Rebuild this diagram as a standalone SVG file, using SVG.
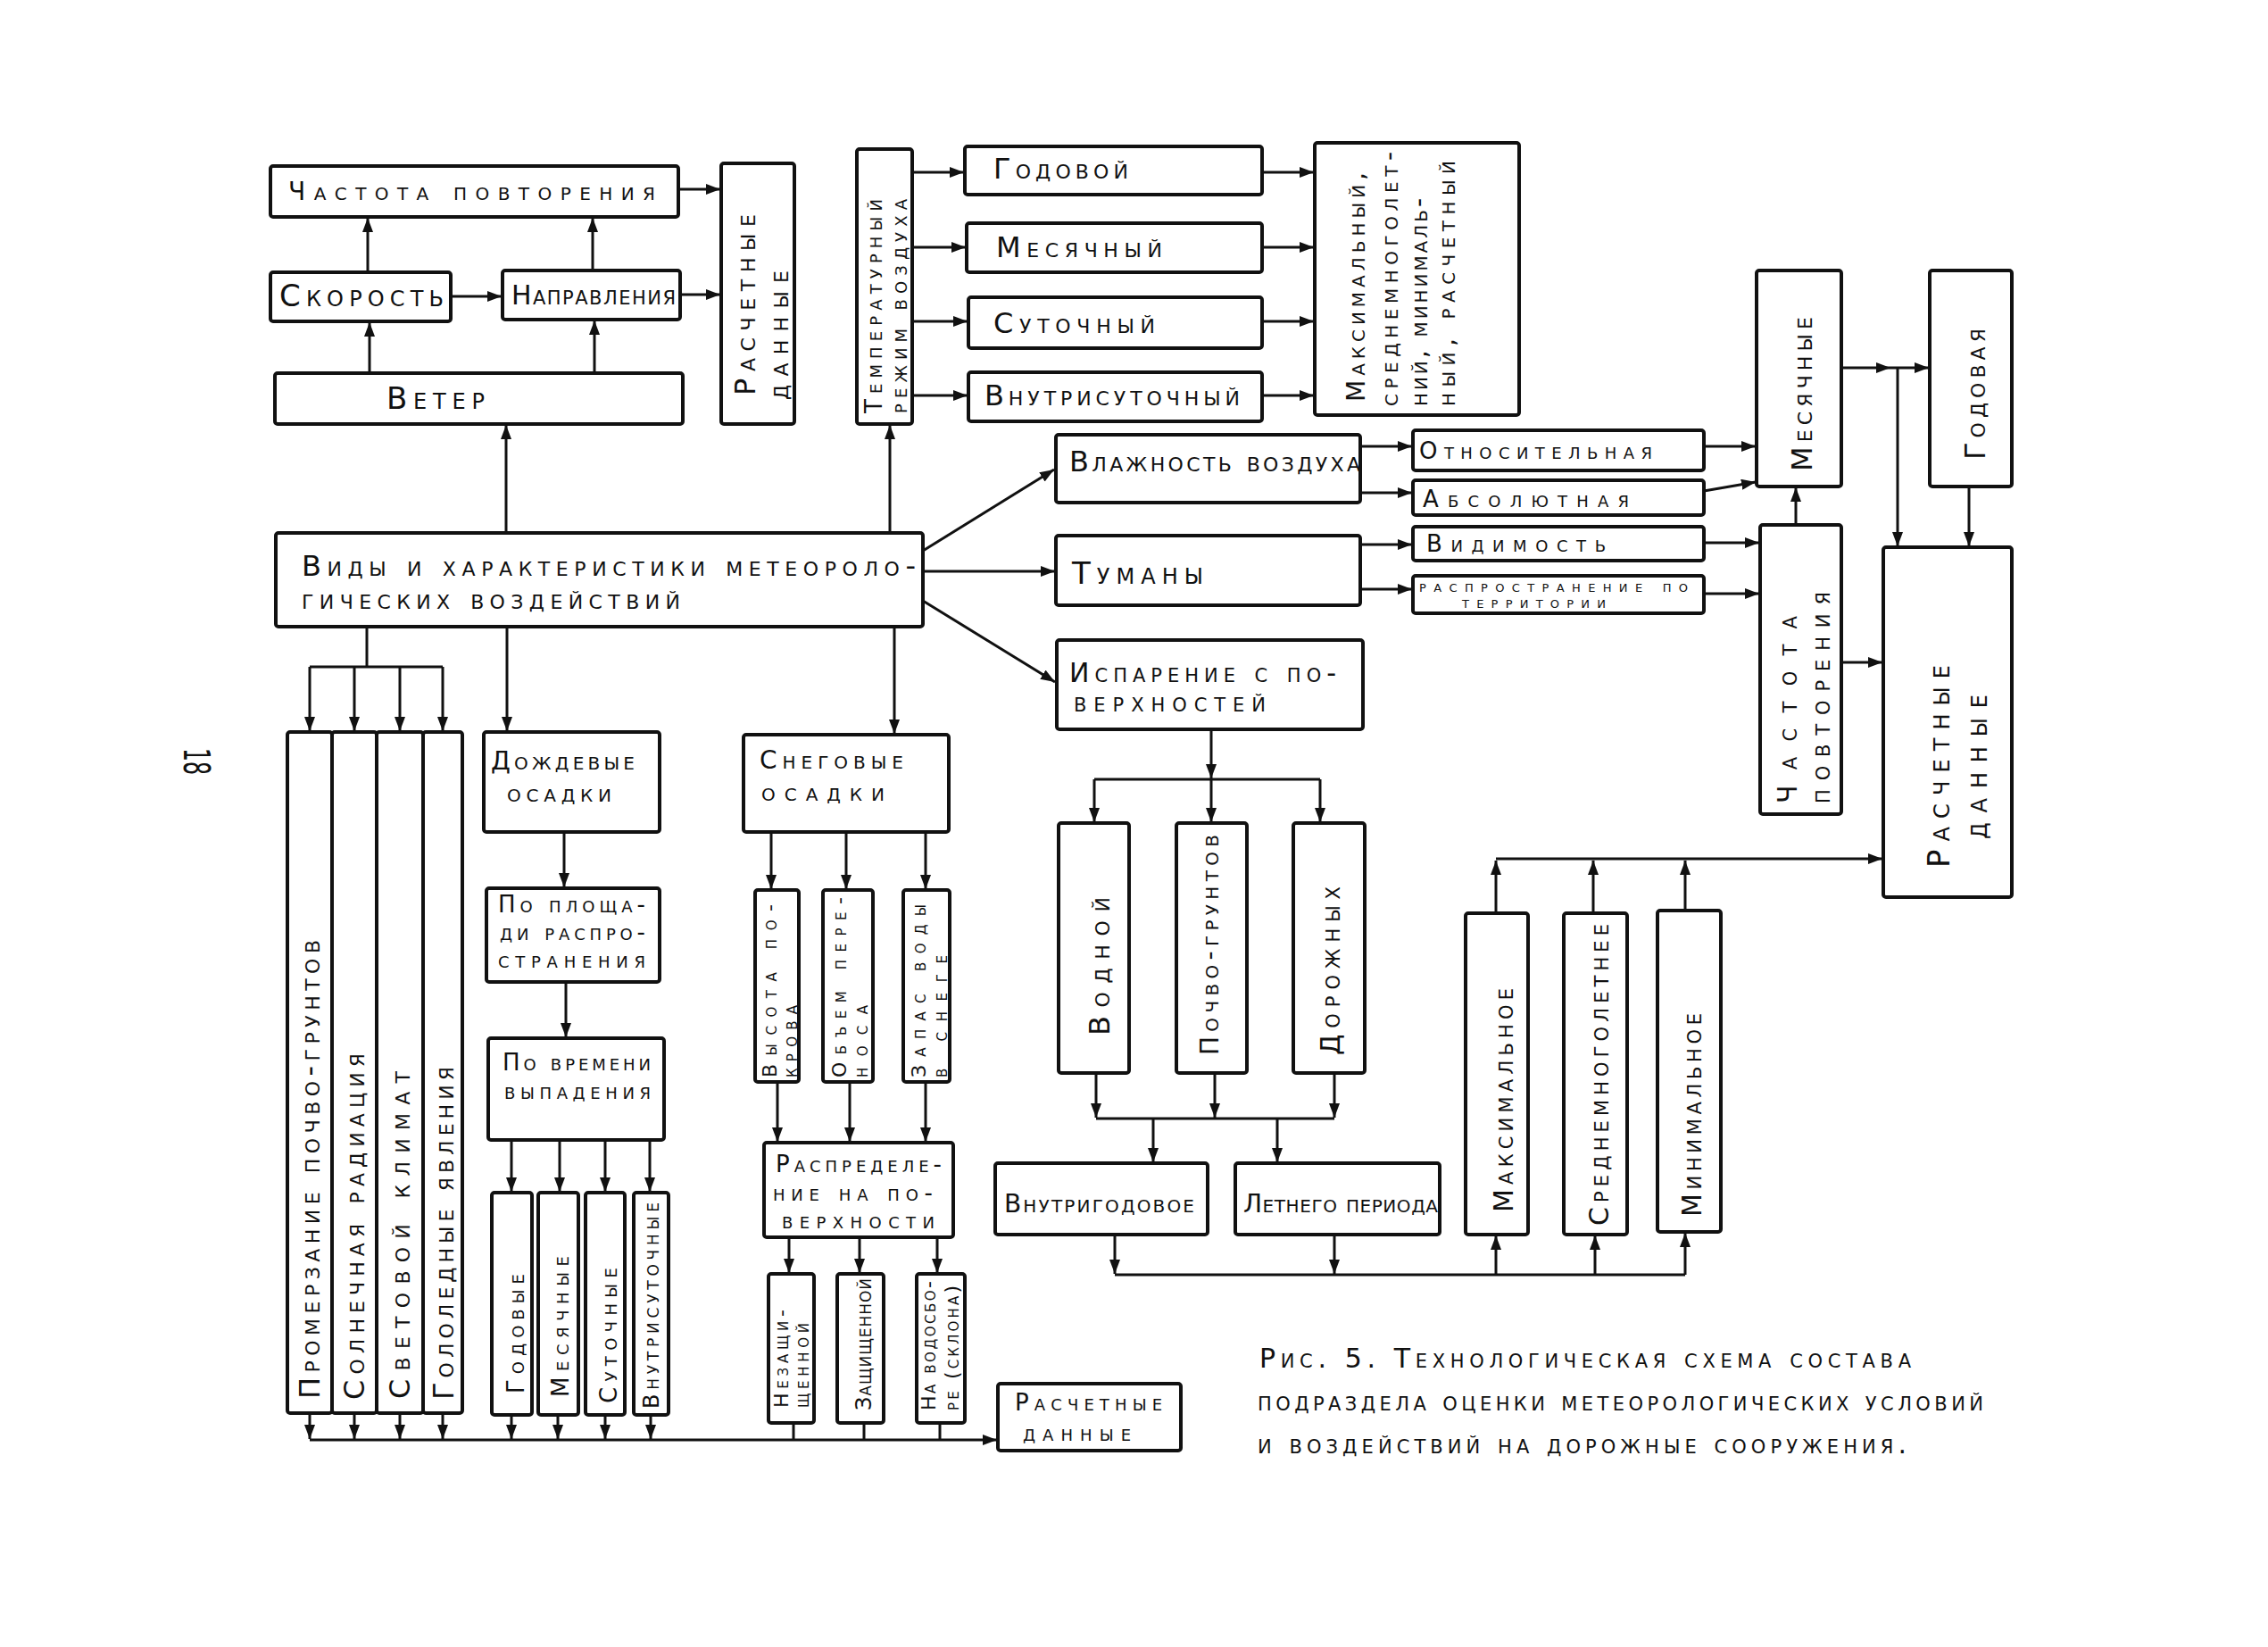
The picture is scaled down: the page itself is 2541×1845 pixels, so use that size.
<svg xmlns="http://www.w3.org/2000/svg" width="2541" height="1845" viewBox="0 0 2541 1845">
<style>
.b{fill:none;stroke:#111;stroke-width:4;stroke-linejoin:round}
.c{stroke:#111;stroke-width:3;fill:none}
.a{marker-end:url(#ah)}
text{font-family:"DejaVu Sans","Liberation Sans",sans-serif;font-variant:small-caps;fill:#111}
.f18{font-size:18px}.f22{font-size:22px}.f24{font-size:24px}.f26{font-size:26px}.f28{font-size:28px}.f30{font-size:30px}.f32{font-size:32px}.f34{font-size:34px}
</style>
<defs>
<marker id="ah" markerUnits="userSpaceOnUse" markerWidth="16" markerHeight="12" refX="16" refY="6" orient="auto">
<path d="M0,0 L16,6 L0,12 z" fill="#111"/>
</marker>
</defs>
<rect x="0" y="0" width="2541" height="1845" fill="#fff"/>

<g id="connectors">
<line class="c a" x1="412" y1="305" x2="412" y2="244"/>
<line class="c a" x1="664" y1="303" x2="664" y2="244"/>
<line class="c a" x1="414" y1="418" x2="414" y2="361"/>
<line class="c a" x1="666" y1="418" x2="666" y2="359"/>
<line class="c a" x1="505" y1="332" x2="562" y2="332"/>
<line class="c a" x1="760" y1="212" x2="807" y2="212"/>
<line class="c a" x1="762" y1="330" x2="807" y2="330"/>
<line class="c a" x1="567" y1="597" x2="567" y2="476"/>
<line class="c a" x1="997" y1="597" x2="997" y2="476"/>
<line class="c a" x1="1022" y1="193" x2="1080" y2="193"/>
<line class="c a" x1="1022" y1="277" x2="1082" y2="277"/>
<line class="c a" x1="1022" y1="360" x2="1084" y2="360"/>
<line class="c a" x1="1022" y1="443" x2="1084" y2="443"/>
<line class="c a" x1="1414" y1="193" x2="1472" y2="193"/>
<line class="c a" x1="1414" y1="277" x2="1472" y2="277"/>
<line class="c a" x1="1414" y1="360" x2="1472" y2="360"/>
<line class="c a" x1="1414" y1="443" x2="1472" y2="443"/>
<line class="c a" x1="1034" y1="617" x2="1181" y2="526"/>
<line class="c a" x1="1034" y1="640" x2="1182" y2="640"/>
<line class="c a" x1="1034" y1="673" x2="1182" y2="764"/>
<line class="c a" x1="1524" y1="500" x2="1582" y2="500"/>
<line class="c a" x1="1524" y1="552" x2="1582" y2="552"/>
<line class="c a" x1="1524" y1="610" x2="1582" y2="610"/>
<line class="c a" x1="1524" y1="660" x2="1582" y2="660"/>
<line class="c a" x1="1909" y1="500" x2="1967" y2="500"/>
<line class="c a" x1="1909" y1="550" x2="1967" y2="540"/>
<line class="c a" x1="1909" y1="608" x2="1971" y2="608"/>
<line class="c a" x1="1909" y1="665" x2="1971" y2="665"/>
<line class="c a" x1="2012" y1="588" x2="2012" y2="546"/>
<line class="c a" x1="2063" y1="412" x2="2118" y2="412"/>
<line class="c a" x1="2118" y1="412" x2="2161" y2="412"/>
<line class="c a" x1="2126" y1="412" x2="2126" y2="612"/>
<line class="c a" x1="2206" y1="545" x2="2206" y2="612"/>
<line class="c a" x1="2063" y1="742" x2="2109" y2="742"/>
<line class="c a" x1="1357" y1="817" x2="1357" y2="872"/>
<line class="c" x1="1226" y1="873" x2="1479" y2="873"/>
<line class="c a" x1="1226" y1="873" x2="1226" y2="921"/>
<line class="c a" x1="1357" y1="873" x2="1357" y2="921"/>
<line class="c a" x1="1479" y1="873" x2="1479" y2="921"/>
<line class="c a" x1="1228" y1="1202" x2="1228" y2="1252"/>
<line class="c a" x1="1361" y1="1202" x2="1361" y2="1252"/>
<line class="c a" x1="1495" y1="1202" x2="1495" y2="1252"/>
<line class="c" x1="1228" y1="1253" x2="1495" y2="1253"/>
<line class="c a" x1="1292" y1="1253" x2="1292" y2="1302"/>
<line class="c a" x1="1431" y1="1253" x2="1431" y2="1302"/>
<line class="c a" x1="1249" y1="1383" x2="1249" y2="1427"/>
<line class="c a" x1="1495" y1="1383" x2="1495" y2="1427"/>
<line class="c" x1="1249" y1="1428" x2="1888" y2="1428"/>
<line class="c a" x1="1676" y1="1428" x2="1676" y2="1384"/>
<line class="c a" x1="1787" y1="1428" x2="1787" y2="1384"/>
<line class="c a" x1="1888" y1="1428" x2="1888" y2="1381"/>
<line class="c a" x1="1676" y1="1023" x2="1676" y2="964"/>
<line class="c a" x1="1785" y1="1023" x2="1785" y2="964"/>
<line class="c a" x1="1888" y1="1020" x2="1888" y2="964"/>
<line class="c a" x1="1676" y1="962" x2="2109" y2="962"/>
<line class="c" x1="411" y1="702" x2="411" y2="747"/>
<line class="c" x1="347" y1="747" x2="496" y2="747"/>
<line class="c a" x1="347" y1="747" x2="347" y2="819"/>
<line class="c a" x1="397" y1="747" x2="397" y2="819"/>
<line class="c a" x1="448" y1="747" x2="448" y2="819"/>
<line class="c a" x1="496" y1="747" x2="496" y2="819"/>
<line class="c a" x1="568" y1="702" x2="568" y2="819"/>
<line class="c a" x1="1002" y1="702" x2="1002" y2="822"/>
<line class="c a" x1="632" y1="932" x2="632" y2="994"/>
<line class="c a" x1="634" y1="1100" x2="634" y2="1162"/>
<line class="c a" x1="573" y1="1277" x2="573" y2="1335"/>
<line class="c a" x1="627" y1="1277" x2="627" y2="1335"/>
<line class="c a" x1="678" y1="1277" x2="678" y2="1335"/>
<line class="c a" x1="728" y1="1277" x2="728" y2="1335"/>
<line class="c a" x1="573" y1="1585" x2="573" y2="1612"/>
<line class="c a" x1="625" y1="1585" x2="625" y2="1612"/>
<line class="c a" x1="678" y1="1585" x2="678" y2="1612"/>
<line class="c a" x1="729" y1="1585" x2="729" y2="1612"/>
<line class="c a" x1="347" y1="1583" x2="347" y2="1612"/>
<line class="c a" x1="397" y1="1583" x2="397" y2="1612"/>
<line class="c a" x1="448" y1="1583" x2="448" y2="1612"/>
<line class="c a" x1="496" y1="1583" x2="496" y2="1612"/>
<line class="c a" x1="864" y1="932" x2="864" y2="996"/>
<line class="c a" x1="948" y1="932" x2="948" y2="996"/>
<line class="c a" x1="1037" y1="932" x2="1037" y2="996"/>
<line class="c a" x1="871" y1="1212" x2="871" y2="1279"/>
<line class="c a" x1="952" y1="1212" x2="952" y2="1279"/>
<line class="c a" x1="1037" y1="1212" x2="1037" y2="1279"/>
<line class="c a" x1="884" y1="1386" x2="884" y2="1426"/>
<line class="c a" x1="963" y1="1386" x2="963" y2="1426"/>
<line class="c a" x1="1050" y1="1386" x2="1050" y2="1426"/>
<line class="c" x1="889" y1="1594" x2="889" y2="1613"/>
<line class="c" x1="968" y1="1594" x2="968" y2="1613"/>
<line class="c" x1="1053" y1="1594" x2="1053" y2="1613"/>
<line class="c a" x1="347" y1="1613" x2="1117" y2="1613"/>
</g>

<g id="n-chastota1"><rect class="b" x="303" y="186" width="457" height="57" rx="3"/><text class="f28" x="323" y="224" textLength="411">Частота повторения</text></g>
<g id="n-skorost"><rect class="b" x="303" y="305" width="202" height="55" rx="3"/><text class="f34" x="313" y="343" textLength="184">Скорость</text></g>
<g id="n-napravl"><rect class="b" x="563" y="303" width="199" height="55" rx="3"/><text class="f30" x="573" y="341" textLength="184">Направления</text></g>
<g id="n-veter"><rect class="b" x="308" y="418" width="457" height="57" rx="3"/><text class="f34" x="433" y="458" textLength="110">Ветер</text></g>
<g id="n-rasch1"><rect class="b" x="808" y="183" width="82" height="292" rx="3"/>
<text class="f32" transform="translate(846,443) rotate(-90)" textLength="203">Расчетные</text>
<text class="f32" transform="translate(883,448) rotate(-90)" textLength="145">данные</text></g>
<g id="n-temp"><rect class="b" x="960" y="167" width="62" height="308" rx="3"/>
<text class="f26" transform="translate(988,463) rotate(-90)" textLength="240">Температурный</text>
<text class="f26" transform="translate(1016,463) rotate(-90)" textLength="240">режим воздуха</text></g>
<g id="n-godovoi"><rect class="b" x="1081" y="164" width="333" height="54" rx="3"/><text class="f32" x="1113" y="200" textLength="151">Годовой</text></g>
<g id="n-mesyachny"><rect class="b" x="1083" y="250" width="331" height="55" rx="3"/><text class="f32" x="1116" y="288" textLength="186">Месячный</text></g>
<g id="n-sutochny"><rect class="b" x="1085" y="333" width="329" height="57" rx="3"/><text class="f32" x="1113" y="373" textLength="181">Суточный</text></g>
<g id="n-vnutrisut"><rect class="b" x="1085" y="417" width="329" height="55" rx="3"/><text class="f32" x="1103" y="454" textLength="286">Внутрисуточный</text></g>
<g id="n-maxbig"><rect class="b" x="1473" y="160" width="229" height="305" rx="3"/>
<text class="f28" transform="translate(1529,450) rotate(-90)" textLength="257">Максимальный,</text>
<text class="f28" transform="translate(1566,455) rotate(-90)" textLength="285">среднемноголет-</text>
<text class="f28" transform="translate(1599,455) rotate(-90)" textLength="233">ний, минималь-</text>
<text class="f28" transform="translate(1630,455) rotate(-90)" textLength="275">ный, расчетный</text></g>
<g id="n-center"><rect class="b" x="309" y="597" width="725" height="105" rx="3"/>
<text class="f32" x="338" y="645" textLength="688">Виды и характеристики метеороло-</text>
<text class="f32" x="338" y="682" textLength="424">гических воздействий</text></g>
<g id="n-vlazhnost"><rect class="b" x="1183" y="487" width="341" height="76" rx="3"/><text class="f32" x="1198" y="528" textLength="326">Влажность воздуха</text></g>
<g id="n-tumany"><rect class="b" x="1183" y="600" width="341" height="78" rx="3"/><text class="f34" x="1201" y="654" textLength="147">Туманы</text></g>
<g id="n-isparenie"><rect class="b" x="1184" y="717" width="343" height="100" rx="3"/>
<text class="f30" x="1198" y="764" textLength="299">Испарение с по-</text>
<text class="f30" x="1203" y="797" textLength="215">верхностей</text></g>
<g id="n-otnos"><rect class="b" x="1583" y="482" width="326" height="45" rx="3"/><text class="f26" x="1590" y="514" textLength="261">Относительная</text></g>
<g id="n-absol"><rect class="b" x="1583" y="538" width="326" height="39" rx="3"/><text class="f26" x="1594" y="568" textLength="231">Абсолютная</text></g>
<g id="n-vidim"><rect class="b" x="1583" y="590" width="326" height="38" rx="3"/><text class="f26" x="1598" y="618" textLength="201">Видимость</text></g>
<g id="n-rasprost"><rect class="b" x="1583" y="645" width="326" height="42" rx="3"/>
<text class="f18" x="1590" y="663" textLength="301">распространение по</text>
<text class="f18" x="1638" y="681" textLength="161">территории</text></g>
<g id="n-mesyachnye-r"><rect class="b" x="1968" y="303" width="95" height="242" rx="3"/><text class="f32" transform="translate(2030,528) rotate(-90)" textLength="173">Месячные</text></g>
<g id="n-godovaya"><rect class="b" x="2162" y="303" width="92" height="242" rx="3"/><text class="f32" transform="translate(2224,515) rotate(-90)" textLength="147">Годовая</text></g>
<g id="n-chastota2"><rect class="b" x="1972" y="588" width="91" height="324" rx="3"/>
<text class="f30" transform="translate(2013,900) rotate(-90)" textLength="210">Частота</text>
<text class="f30" transform="translate(2050,900) rotate(-90)" textLength="237">повторения</text></g>
<g id="n-rasch2"><rect class="b" x="2110" y="613" width="144" height="392" rx="3"/>
<text class="f34" transform="translate(2184,972) rotate(-90)" textLength="227">Расчетные</text>
<text class="f34" transform="translate(2226,940) rotate(-90)" textLength="162">данные</text></g>
<g id="n-maks"><rect class="b" x="1642" y="1023" width="70" height="360" rx="3"/><text class="f30" transform="translate(1695,1358) rotate(-90)" textLength="251">Максимальное</text></g>
<g id="n-sredn"><rect class="b" x="1752" y="1023" width="71" height="360" rx="3"/><text class="f30" transform="translate(1802,1373) rotate(-90)" textLength="338">Среднемноголетнее</text></g>
<g id="n-minim"><rect class="b" x="1857" y="1020" width="71" height="360" rx="3"/><text class="f30" transform="translate(1906,1363) rotate(-90)" textLength="228">Минимальное</text></g>
<g id="n-vodnoi"><rect class="b" x="1186" y="922" width="79" height="280" rx="3"/><text class="f32" transform="translate(1243,1160) rotate(-90)" textLength="155">Водной</text></g>
<g id="n-pochvo"><rect class="b" x="1318" y="922" width="79" height="280" rx="3"/><text class="f28" transform="translate(1365,1182) rotate(-90)" textLength="247">Почво-грунтов</text></g>
<g id="n-dorozh"><rect class="b" x="1449" y="922" width="80" height="280" rx="3"/><text class="f30" transform="translate(1501,1182) rotate(-90)" textLength="189">Дорожных</text></g>
<g id="n-vnutrigod"><rect class="b" x="1115" y="1303" width="238" height="80" rx="3"/><text class="f28" x="1125" y="1358" textLength="213">Внутригодовое</text></g>
<g id="n-letnego"><rect class="b" x="1384" y="1303" width="229" height="80" rx="3"/><text class="f28" x="1393" y="1358" textLength="218">Летнего периода</text></g>
<g id="n-promerz"><rect class="b" x="322" y="820" width="50" height="763" rx="3"/><text class="f32" transform="translate(358,1567) rotate(-90)" textLength="514">Промерзание почво-грунтов</text></g>
<g id="n-solnech"><rect class="b" x="372" y="820" width="50" height="763" rx="3"/><text class="f32" transform="translate(408,1568) rotate(-90)" textLength="388">Солнечная радиация</text></g>
<g id="n-svetovoi"><rect class="b" x="422" y="820" width="52" height="763" rx="3"/><text class="f32" transform="translate(459,1567) rotate(-90)" textLength="367">Световой климат</text></g>
<g id="n-gololed"><rect class="b" x="474" y="820" width="44" height="763" rx="3"/><text class="f32" transform="translate(508,1568) rotate(-90)" textLength="373">Гололедные явления</text></g>
<g id="n-dozhd"><rect class="b" x="542" y="820" width="197" height="112" rx="3"/>
<text class="f28" x="550" y="862" textLength="161">Дождевые</text>
<text class="f28" x="568" y="898" textLength="117">осадки</text></g>
<g id="n-poploshch"><rect class="b" x="545" y="995" width="194" height="105" rx="3"/>
<text class="f26" x="558" y="1022" textLength="165">По площа-</text>
<text class="f26" x="560" y="1053" textLength="163">ди распро-</text>
<text class="f26" x="558" y="1084" textLength="165">странения</text></g>
<g id="n-povrem"><rect class="b" x="547" y="1163" width="197" height="114" rx="3"/>
<text class="f26" x="563" y="1199" textLength="166">По времени</text>
<text class="f26" x="565" y="1231" textLength="164">выпадения</text></g>
<g id="n-godovye"><rect class="b" x="551" y="1336" width="45" height="249" rx="3"/><text class="f26" transform="translate(587,1561) rotate(-90)" textLength="134">Годовые</text></g>
<g id="n-mesyachnye-l"><rect class="b" x="603" y="1336" width="45" height="249" rx="3"/><text class="f26" transform="translate(637,1565) rotate(-90)" textLength="158">Месячные</text></g>
<g id="n-sutochnye"><rect class="b" x="656" y="1336" width="44" height="249" rx="3"/><text class="f26" transform="translate(691,1572) rotate(-90)" textLength="152">Суточные</text></g>
<g id="n-vnutrisutochnye"><rect class="b" x="710" y="1336" width="39" height="249" rx="3"/><text class="f24" transform="translate(738,1578) rotate(-90)" textLength="231">Внутрисуточные</text></g>
<g id="n-snegovye"><rect class="b" x="833" y="823" width="230" height="109" rx="3"/>
<text class="f28" x="851" y="861" textLength="161">Снеговые</text>
<text class="f28" x="853" y="897" textLength="138">осадки</text></g>
<g id="n-vysota"><rect class="b" x="846" y="997" width="49" height="215" rx="3"/>
<text class="f22" transform="translate(870,1207) rotate(-90)" textLength="194">Высота по-</text>
<text class="f22" transform="translate(893,1207) rotate(-90)" textLength="81">крова</text></g>
<g id="n-obem"><rect class="b" x="922" y="997" width="56" height="215" rx="3"/>
<text class="f22" transform="translate(948,1207) rotate(-90)" textLength="202">Объем пере-</text>
<text class="f22" transform="translate(972,1207) rotate(-90)" textLength="81">носа</text></g>
<g id="n-zapas"><rect class="b" x="1012" y="997" width="52" height="215" rx="3"/>
<text class="f22" transform="translate(1037,1207) rotate(-90)" textLength="194">Запас воды</text>
<text class="f22" transform="translate(1061,1207) rotate(-90)" textLength="137">в снеге</text></g>
<g id="n-raspred"><rect class="b" x="856" y="1280" width="212" height="106" rx="3"/>
<text class="f26" x="869" y="1313" textLength="186">Распределе-</text>
<text class="f26" x="866" y="1345" textLength="179">ние на по-</text>
<text class="f26" x="876" y="1376" textLength="171">верхности</text></g>
<g id="n-nezashch"><rect class="b" x="861" y="1427" width="51" height="167" rx="3"/>
<text class="f22" transform="translate(883,1577) rotate(-90)" textLength="110">Незащи-</text>
<text class="f22" transform="translate(906,1577) rotate(-90)" textLength="95">щенной</text></g>
<g id="n-zashch"><rect class="b" x="938" y="1427" width="52" height="167" rx="3"/><text class="f24" transform="translate(976,1580) rotate(-90)" textLength="148">Защищенной</text></g>
<g id="n-vodosbor"><rect class="b" x="1027" y="1427" width="54" height="167" rx="3"/>
<text class="f22" transform="translate(1048,1580) rotate(-90)" textLength="145">На водосбо-</text>
<text class="f22" transform="translate(1074,1580) rotate(-90)" textLength="140">ре (склона)</text></g>
<g id="n-rasch3"><rect class="b" x="1118" y="1550" width="205" height="75" rx="3"/>
<text class="f26" x="1137" y="1580" textLength="165">Расчетные</text>
<text class="f26" x="1146" y="1614" textLength="121">данные</text></g>

<g id="caption">
<text class="f30" x="1411" y="1532" textLength="730">Рис. 5. Технологическая схема состава</text>
<text class="f30" x="1409" y="1580" textLength="813">подраздела оценки метеорологических условий</text>
<text class="f30" x="1409" y="1628" textLength="727">и воздействий на дорожные сооружения.</text>
</g>
<g id="page-number"><text transform="translate(206,838) rotate(90)" style="font-size:40px;font-variant:normal" textLength="30" lengthAdjust="spacingAndGlyphs">18</text></g>
</svg>
